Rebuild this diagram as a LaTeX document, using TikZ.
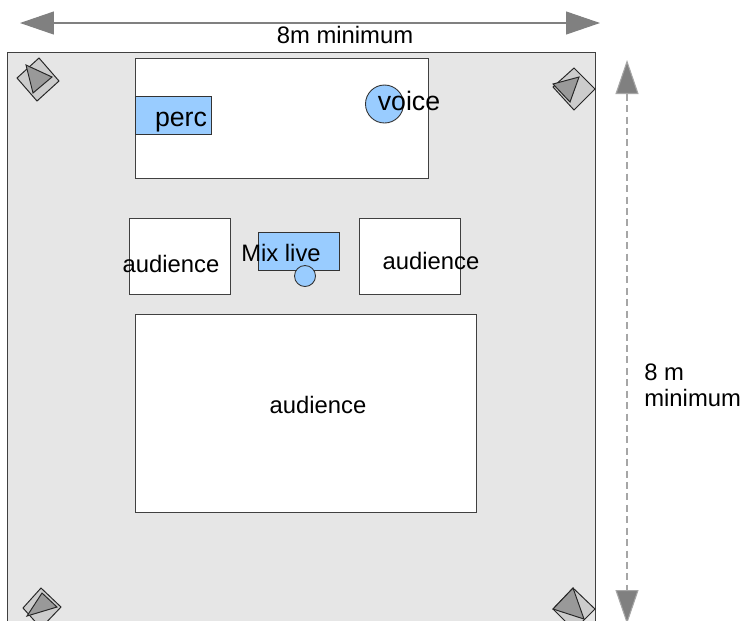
\documentclass[tikz,border=0pt]{standalone}
\usepackage{fontspec}
\setmainfont{Liberation Sans}
\usetikzlibrary{arrows.meta}
\definecolor{roomgray}{HTML}{E6E6E6}
\definecolor{boxgray}{HTML}{CCCCCC}
\definecolor{conegray}{HTML}{999999}
\definecolor{dimgray}{HTML}{808080}
\definecolor{gearblue}{HTML}{99CCFF}
\tikzset{
  wall/.style={draw=black!75,line width=0.5pt},
  gear/.style={draw=black!80,fill=gearblue,line width=0.5pt},
  dimarrow/.style={draw=dimgray,line width=0.6pt,
    {Triangle[length=0.68cm,width=0.46cm,fill=dimgray]}-{Triangle[length=0.68cm,width=0.46cm,fill=dimgray]}},
  lbl/.style={font=\fontsize{13.55pt}{15pt}\selectfont,inner sep=0pt,text=black},
  biglbl/.style={lbl,font=\fontsize{15.2pt}{17pt}\selectfont}
}
\begin{document}
\begin{tikzpicture}[x=0.02cm,y=-0.02cm]
\clip (0,0) rectangle (742,620);
\useasboundingbox (0,0) rectangle (742,620);

% Room floor
\fill[white] (0,0) rectangle (742,620);
\filldraw[wall,fill=roomgray] (7.5,52.5) rectangle (595.5,660);

% Stage and audience areas
\filldraw[wall,fill=white] (135.5,58.5) rectangle (428.5,178.5);
\filldraw[wall,fill=white] (129.5,218.5) rectangle (230.5,294.5);
\filldraw[wall,fill=white] (359.5,218.5) rectangle (460.5,294.5);
\filldraw[wall,fill=white] (135.5,314.5) rectangle (476.5,512.5);

% Instruments and desk
\filldraw[gear] (135.5,96.5) rectangle (211.5,134.5);
\filldraw[gear] (384.5,104) circle (19);
\filldraw[gear] (258.5,232.5) rectangle (339.5,270.5);
\filldraw[gear] (305,276) circle (10.5);

% Speakers (box, then cone)
\foreach \ax/\ay/\bx/\by/\cx/\cy/\dx/\dy/\ex/\ey/\fx/\fy/\gx/\gy in {
  39/58/59/81/37/101/17/78/26/65/52/77/33/93,
  574/68/595/89/574/110/553/87/553/84/579/77/570/102,
  41/588/61/607/41/628/23/608/42/593/57/607/27/616,
  573/588/595/609/574/630/553/609/573/588/584/619/553/609} {
  \filldraw[draw=black!85,fill=boxgray,line width=0.55pt] (\ax,\ay) -- (\bx,\by) -- (\cx,\cy) -- (\dx,\dy) -- cycle;
  \filldraw[draw=black!85,fill=conegray,line width=0.55pt] (\ex,\ey) -- (\fx,\fy) -- (\gx,\gy) -- cycle;
}

% Dimension arrows
\coordinate (wleft) at (20,23);
\coordinate (wright) at (600,23);
\coordinate (htop) at (627,60);
\coordinate (hbot) at (627,624);
\draw[dimarrow] (wleft) -- (wright);
\draw[dimarrow,draw=dimgray!70,dash pattern=on 4pt off 2.5pt] (htop) -- (hbot);

% Labels
\node[lbl] (widthlbl) at (345,35) {8m minimum};
\node[lbl,align=left,anchor=west] (heightlbl) at (644,385) {8 m\\minimum};
\node[biglbl] (perclbl) at (181,122) {perc};
\node[biglbl] (voicelbl) at (409,101) {voice};
\node[lbl] (mixlbl) at (281,253) {Mix live};
\node[lbl] (audleft) at (171,264) {audience};
\node[lbl] (audright) at (431,261) {audience};
\node[lbl] (audmain) at (318,405) {audience};

\end{tikzpicture}
\end{document}
